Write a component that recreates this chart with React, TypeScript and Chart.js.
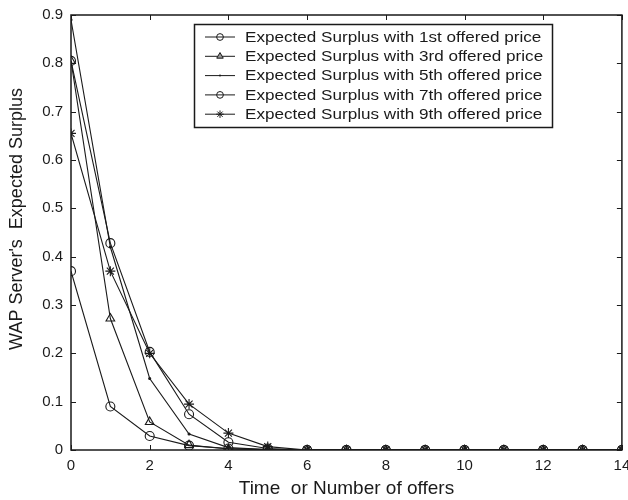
import React, { useEffect, useRef } from "react";
import { Chart, registerables } from "chart.js";

Chart.register(...registerables);

const xValues = [0, 1, 2, 3, 4, 5, 6, 7, 8, 9, 10, 11, 12, 13, 14];
const surplus1st = [0.37, 0.09, 0.029, 0.009, 0.003, 0.001, 0, 0, 0, 0, 0, 0, 0, 0, 0];
const surplus3rd = [0.805, 0.272, 0.058, 0.01, 0.002, 0.0005, 0, 0, 0, 0, 0, 0, 0, 0, 0];
const surplus5th = [0.89, 0.42, 0.148, 0.033, 0.005, 0.001, 0, 0, 0, 0, 0, 0, 0, 0, 0];
const surplus7th = [0.805, 0.428, 0.203, 0.074, 0.016, 0.003, 0, 0, 0, 0, 0, 0, 0, 0, 0];
const surplus9th = [0.655, 0.37, 0.2, 0.095, 0.035, 0.007, 0, 0, 0, 0, 0, 0, 0, 0, 0];

const seriesLabels = [
  "Expected Surplus with 1st offered price",
  "Expected Surplus with 3rd offered price",
  "Expected Surplus with 5th offered price",
  "Expected Surplus with 7th offered price",
  "Expected Surplus with 9th offered price",
];
const seriesValues = [surplus1st, surplus3rd, surplus5th, surplus7th, surplus9th];
const seriesMarkers = ["circle", "triangle", "circle", "circle", "star"];
const seriesMarkerSizes = [4.5, 5, 1, 4.5, 5];

const yTicks = [0, 0.1, 0.2, 0.3, 0.4, 0.5, 0.6, 0.7, 0.8, 0.9];
const xTicks = [0, 2, 4, 6, 8, 10, 12, 14];
const yTitle = "WAP Server's  Expected Surplus";
const xTitle = "Time  or Number of offers";

const INK = "#1a1a1a";
const FONT = "'Liberation Sans', Arial, sans-serif";

function drawMarker(ctx: CanvasRenderingContext2D, style: string, r: number, x: number, y: number) {
  ctx.save();
  ctx.strokeStyle = INK;
  ctx.fillStyle = INK;
  ctx.lineWidth = 1;
  ctx.beginPath();
  if (style === "circle") {
    ctx.arc(x, y, r, 0, Math.PI * 2);
    if (r <= 1.5) ctx.fill();
    else ctx.stroke();
  } else if (style === "triangle") {
    ctx.moveTo(x, y - r);
    ctx.lineTo(x + r * 0.87, y + r * 0.5);
    ctx.lineTo(x - r * 0.87, y + r * 0.5);
    ctx.closePath();
    ctx.fillStyle = "#999";
    ctx.fill();
    ctx.stroke();
  } else if (style === "star") {
    for (let k = 0; k < 4; k++) {
      const ang = (k * Math.PI) / 4;
      ctx.moveTo(x + Math.cos(ang) * r, y + Math.sin(ang) * r);
      ctx.lineTo(x - Math.cos(ang) * r, y - Math.sin(ang) * r);
    }
    ctx.stroke();
  }
  ctx.restore();
}

const framePlugin = {
  id: "frame",
  afterDatasetsDraw(chart: any) {
    const { ctx, chartArea: a, scales } = chart;
    ctx.save();
    ctx.strokeStyle = INK;
    ctx.lineWidth = 1.5;
    ctx.strokeRect(a.left, a.top, a.right - a.left, a.bottom - a.top);
    ctx.lineWidth = 1;
    const len = 5;
    ctx.beginPath();
    xTicks.forEach((t) => {
      const x = Math.round(scales.x.getPixelForValue(t)) + 0.5;
      ctx.moveTo(x, a.bottom);
      ctx.lineTo(x, a.bottom - len);
      ctx.moveTo(x, a.top);
      ctx.lineTo(x, a.top + len);
    });
    yTicks.forEach((t) => {
      const y = Math.round(scales.y.getPixelForValue(t)) + 0.5;
      ctx.moveTo(a.left, y);
      ctx.lineTo(a.left + len, y);
      ctx.moveTo(a.right, y);
      ctx.lineTo(a.right - len, y);
    });
    ctx.stroke();
    ctx.restore();

    // y-axis title
    ctx.save();
    ctx.translate(17, 219);
    ctx.rotate(-Math.PI / 2);
    ctx.font = `18px ${FONT}`;
    ctx.textAlign = "center";
    ctx.textBaseline = "middle";
    ctx.fillStyle = INK;
    ctx.fillText(yTitle, 0, 0);
    ctx.restore();
  },
  afterDraw(chart: any) {
    const { ctx } = chart;
    const left = 194, top = 24, right = 552, bottom = 127;
    ctx.save();
    ctx.fillStyle = "#fff";
    ctx.fillRect(left, top, right - left, bottom - top);
    ctx.strokeStyle = INK;
    ctx.lineWidth = 1.5;
    ctx.strokeRect(left + 0.5, top + 0.5, right - left, bottom - top);
    ctx.font = `15px ${FONT}`;
    ctx.textBaseline = "middle";
    const rowH = 19.3;
    chart.data.datasets.forEach((ds: any, i: number) => {
      const y = top + 13 + i * rowH;
      ctx.lineWidth = 1;
      ctx.strokeStyle = INK;
      ctx.beginPath();
      ctx.moveTo(205, y);
      ctx.lineTo(235, y);
      ctx.stroke();
      drawMarker(ctx, seriesMarkers[i], Math.max(1, seriesMarkerSizes[i] * 0.75), 220, y);
      ctx.save();
      ctx.translate(245, y + 0.5);
      ctx.scale(1.14, 1);
      ctx.fillStyle = INK;
      ctx.fillText(ds.label, 0, 0);
      ctx.restore();
    });
    ctx.restore();
  },
};

export default function App() {
  const ref = useRef<HTMLCanvasElement>(null);
  useEffect(() => {
    document.body.style.margin = "0";
    const datasets = seriesValues.map((vals, i) => ({
      label: seriesLabels[i],
      data: vals.map((v, j) => ({ x: xValues[j], y: v })),
      borderColor: INK,
      borderWidth: 1.1,
      backgroundColor: i === 2 ? INK : "rgba(0,0,0,0)",
      pointBackgroundColor: i === 2 ? INK : "rgba(0,0,0,0)",
      pointBorderColor: INK,
      pointBorderWidth: 1.1,
      pointStyle: seriesMarkers[i],
      pointRadius: seriesMarkerSizes[i],
      tension: 0,
      fill: false,
    }));
    const chart = new Chart(ref.current!, {
      type: "line",
      data: { datasets },
      plugins: [framePlugin],
      options: {
        animation: false,
        responsive: false,
        maintainAspectRatio: false,
        layout: { padding: { top: 15, right: 5, left: 0, bottom: 0 } },
        plugins: { legend: { display: false }, tooltip: { enabled: false } },
        scales: {
          x: {
            type: "linear",
            min: 0,
            max: 14,
            grid: { display: false, drawTicks: false },
            border: { display: false },
            ticks: {
              stepSize: 2,
              padding: 7,
              color: INK,
              font: { family: FONT, size: 15 },
              maxRotation: 0,
            },
            title: {
              display: true,
              text: xTitle,
              color: INK,
              font: { family: FONT, size: 19 },
              padding: { top: 0, bottom: 0 },
            },
            afterFit: (s: any) => {
              s.height = 50;
              s.paddingRight = 0;
              s.paddingLeft = 0;
            },
          },
          y: {
            type: "linear",
            min: 0,
            max: 0.9,
            grid: { display: false, drawTicks: false },
            border: { display: false },
            ticks: {
              stepSize: 0.1,
              padding: 8,
              color: INK,
              font: { family: FONT, size: 15 },
              callback: (v: any) => (v === 0 ? "0" : Number(v).toFixed(1)),
            },
            title: { display: false },
            afterFit: (s: any) => {
              s.width = 71;
              s.paddingTop = 0;
              s.paddingBottom = 0;
            },
          },
        },
      },
    });
    return () => chart.destroy();
  }, []);
  return <canvas ref={ref} width={628} height={500} style={{ display: "block" }} />;
}
